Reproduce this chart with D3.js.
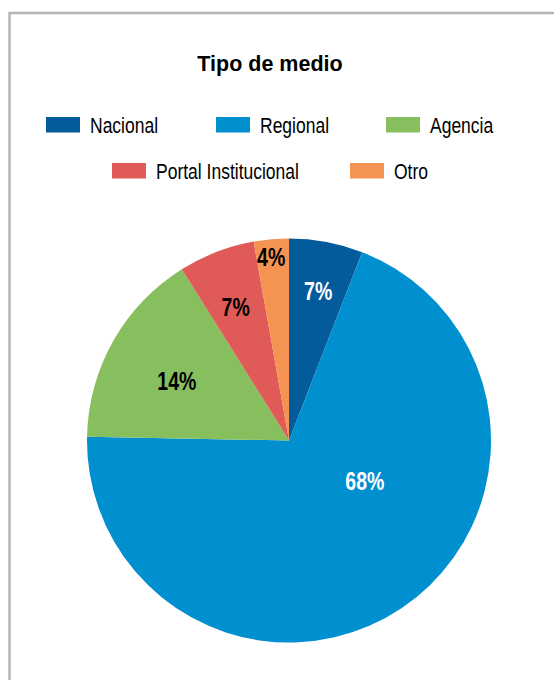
<!DOCTYPE html>
<meta charset="utf-8">
<style>
body { margin: 0; background: #fff; }
text.title {
  font-family: "Liberation Sans", Arial, Helvetica, sans-serif;
  font-weight: bold;
  font-size: 21.5px;
  fill: #000;
}
g.legend text {
  font-family: "Liberation Sans", Arial, Helvetica, sans-serif;
  font-size: 22.3px;
  fill: #000;
}
text.pct {
  font-family: "Liberation Sans", Arial, Helvetica, sans-serif;
  font-weight: bold;
  font-size: 25px;
}
</style>
<body>
<div id="pie"></div>
<script src="https://cdnjs.cloudflare.com/ajax/libs/d3/7.8.5/d3.min.js"></script>
<script>
// Tipo de medio - shares, labels as printed
var categories = ["Nacional", "Regional", "Agencia", "Portal Institucional", "Otro"];
var shares = [5.9, 69.4, 15.8, 6.1, 2.8];
var pctLabels = ["7%", "68%", "14%", "7%", "4%"];
var colors = ["#045b9b", "#008fcf", "#88bf5e", "#e05a57", "#f59353"];
var labelFill = ["#fff", "#fff", "#000", "#000", "#000"];

// where the label sits inside its slice: [fraction of the angle, fraction of the radius]
var labelPlace = [[0.52, 0.754], [0.387, 0.425], [0.47, 0.628], [0.47, 0.713], [0.45, 0.915]];

var width = 554, height = 680;
var cx = 289, cy = 440.5, radius = 202;
// no condensed face installed, so squeeze the regular one
var narrow = 0.785;

var svg = d3.select("#pie")
    .append("svg")
    .attr("width", width)
    .attr("height", height);

// outer frame (cut by the page edge on the right and bottom)
svg.append("rect")
    .attr("x", 9.5)
    .attr("y", 13)
    .attr("width", 600)
    .attr("height", 700)
    .attr("fill", "none")
    .attr("stroke", "#b5b5b5")
    .attr("stroke-width", 2.5);

svg.append("text")
    .attr("class", "title")
    .attr("x", 270)
    .attr("y", 71)
    .attr("text-anchor", "middle")
    .text("Tipo de medio");

// legend, two rows
var legendPos = [[46, 117], [216, 117], [386, 117], [112, 163], [350, 163]];
var legend = svg.append("g").attr("class", "legend");
var items = legend.selectAll("g")
    .data(categories)
    .enter().append("g")
    .attr("transform", function (d, i) {
      return "translate(" + legendPos[i][0] + "," + legendPos[i][1] + ")";
    });
items.append("rect")
    .attr("width", 34)
    .attr("height", 15.5)
    .attr("fill", function (d, i) { return colors[i]; });
items.append("text")
    .attr("transform", "translate(44,16.3) scale(" + narrow + ",1)")
    .text(function (d) { return d; });

// pie
var pie = d3.pie().sort(null).value(function (d) { return d; });
var arcs = pie(shares);
var arc = d3.arc().innerRadius(0).outerRadius(radius);

var g = svg.append("g")
    .attr("transform", "translate(" + cx + "," + cy + ")");

g.selectAll("path.slice")
    .data(arcs)
    .enter().append("path")
    .attr("class", "slice")
    .attr("d", arc)
    .attr("fill", function (d, i) { return colors[i]; });

g.selectAll("text.pct")
    .data(arcs)
    .enter().append("text")
    .attr("class", "pct")
    .attr("text-anchor", "middle")
    .attr("dy", "0.36em")
    .attr("transform", function (d, i) {
      var a = d.startAngle + (d.endAngle - d.startAngle) * labelPlace[i][0];
      var r = radius * labelPlace[i][1];
      return "translate(" + (r * Math.sin(a)) + "," + (-r * Math.cos(a)) + ") scale(0.78,1)";
    })
    .attr("fill", function (d, i) { return labelFill[i]; })
    .text(function (d, i) { return pctLabels[i]; });
</script>
</body>
